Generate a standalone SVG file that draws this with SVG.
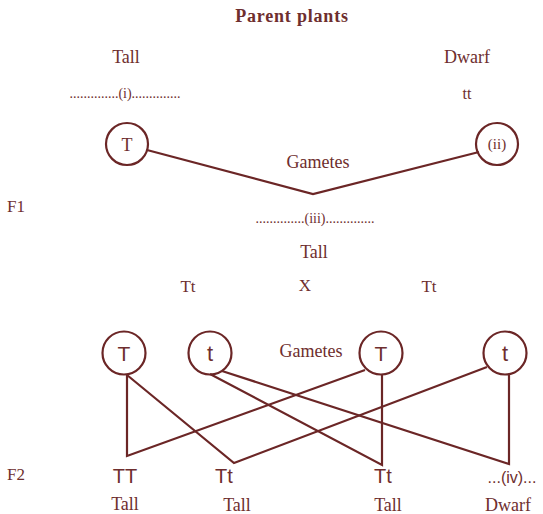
<svg xmlns="http://www.w3.org/2000/svg" width="543" height="514" viewBox="0 0 543 514">
<style>
.s{font-family:"Liberation Serif","Times New Roman",serif;fill:#6e2e2e;text-anchor:middle}
.a{font-family:"Liberation Sans",Arial,sans-serif;fill:#6e2e2e;text-anchor:middle}
.c{fill:none;stroke:#6b2626;stroke-width:2.2}
.l{fill:none;stroke:#6b2626;stroke-width:2.2;stroke-linejoin:miter}
</style>
<rect width="543" height="514" fill="#ffffff"/>
<g id="labels">
<text class="s" x="292" y="22" font-size="18" font-weight="bold" letter-spacing="0.8">Parent plants</text>
<text class="s" x="126" y="63" font-size="18">Tall</text>
<text class="s" x="467" y="63" font-size="18">Dwarf</text>
<text class="s" x="125" y="98" font-size="14">..............(i)..............</text>
<text class="s" x="467" y="99" font-size="16">tt</text>
<text class="s" x="318" y="168" font-size="18">Gametes</text>
<text class="s" x="16" y="212" font-size="17" text-anchor="middle">F1</text>
<text class="s" x="315" y="223" font-size="14">..............(iii)..............</text>
<text class="s" x="314" y="258" font-size="18">Tall</text>
<text class="s" x="188" y="292" font-size="17">Tt</text>
<text class="s" x="305" y="291" font-size="17">X</text>
<text class="s" x="429" y="292" font-size="17">Tt</text>
<text class="s" x="311" y="357" font-size="18">Gametes</text>
<text class="s" x="16" y="480" font-size="17">F2</text>
<text class="a" x="125" y="483" font-size="20">TT</text>
<text class="a" x="224" y="483" font-size="20">Tt</text>
<text class="a" x="383" y="483" font-size="20">Tt</text>
<text class="a" x="512" y="483" font-size="16">...(iv)...</text>
<text class="s" x="125" y="510" font-size="18">Tall</text>
<text class="s" x="237" y="511" font-size="18">Tall</text>
<text class="s" x="388" y="511" font-size="18">Tall</text>
<text class="s" x="508" y="511" font-size="18">Dwarf</text>
</g>
<g id="node-T-parent"><circle class="c" cx="127" cy="144" r="21"/><text class="s" x="127" y="151" font-size="18">T</text></g>
<g id="node-ii-parent"><circle class="c" cx="497" cy="144" r="21"/><text class="s" x="497" y="149" font-size="15">(ii)</text></g>
<g id="node-g1"><circle class="c" cx="124" cy="353" r="21.5"/><text class="a" x="124" y="361" font-size="21">T</text></g>
<g id="node-g2"><circle class="c" cx="210" cy="353" r="21.5"/><text class="a" x="210" y="361" font-size="22">t</text></g>
<g id="node-g3"><circle class="c" cx="381" cy="353" r="21.5"/><text class="a" x="381" y="361" font-size="21">T</text></g>
<g id="node-g4"><circle class="c" cx="505" cy="353" r="21.5"/><text class="a" x="505" y="361" font-size="22">t</text></g>
<g id="connectors">
<polyline class="l" points="147,150 313,194 479,152"/>
<polyline class="l" points="127,375 127,456 365,370"/>
<polyline class="l" points="127,375 234,463 487,367"/>
<polyline class="l" points="210,374 382,465 382,375"/>
<polyline class="l" points="222,371 509,464 509,375"/>
</g>
</svg>
